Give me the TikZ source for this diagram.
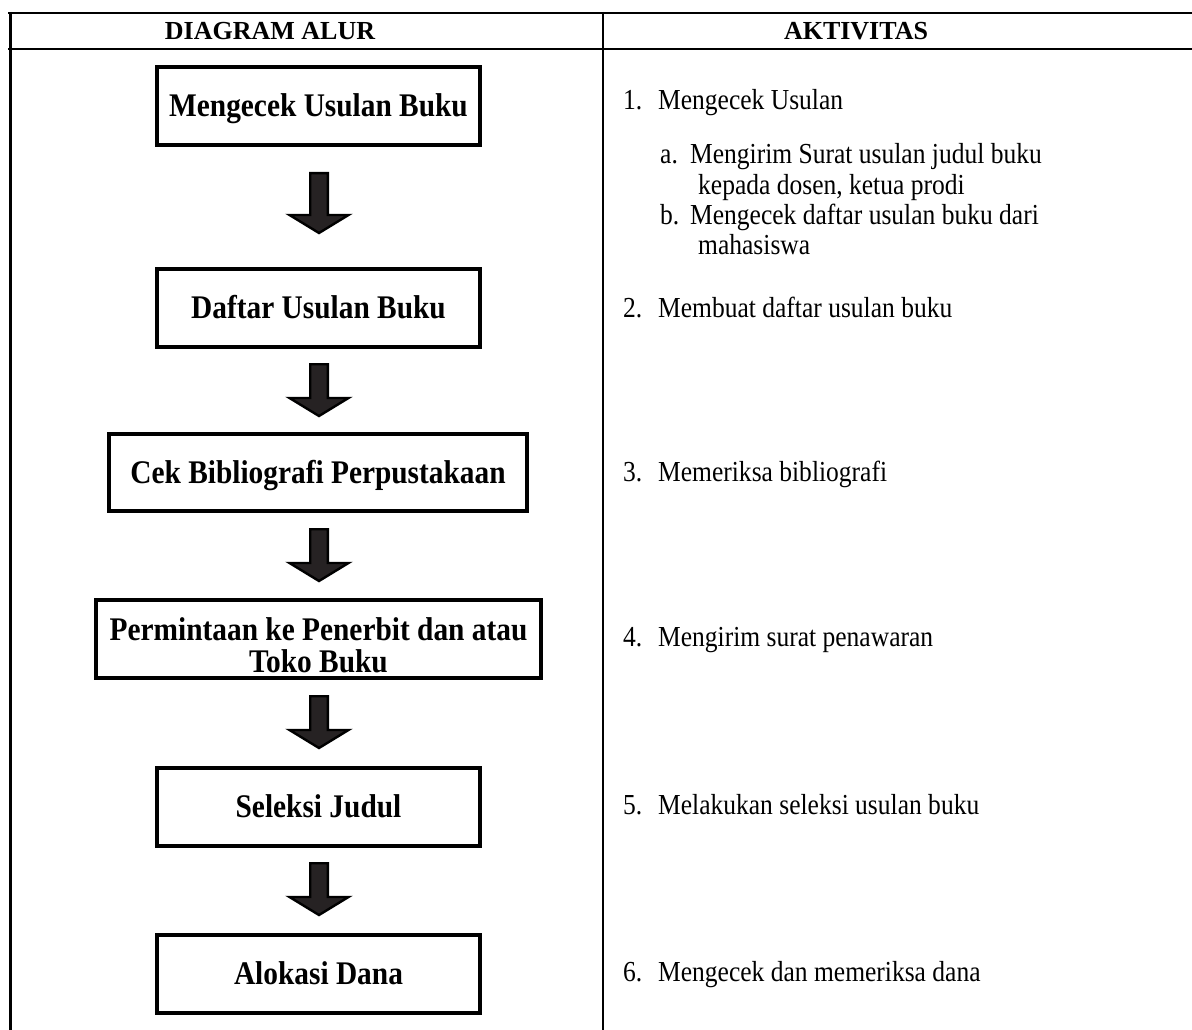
\documentclass[tikz,border=0pt]{standalone}
\usepackage{fontspec}
\setmainfont{Liberation Serif}
\newfontfamily\boxfont[FakeStretch=0.89]{Liberation Serif}
\newfontfamily\bodyfont[FakeStretch=0.88]{Liberation Serif}
\usetikzlibrary{calc}
\definecolor{arrowfill}{RGB}{38,34,35}
\tikzset{
  tblline/.style={line width=2.8pt, draw=black},
  flowbox/.style={draw=black, line width=3.8pt, fill=white, inner sep=0pt, align=center,
    text height=21.8pt, text depth=0pt,
    font=\boxfont\fontsize{33}{36}\selectfont\bfseries},
  boxlabel/.style={inner sep=0pt, anchor=base, font=\boxfont\fontsize{33}{36}\selectfont\bfseries},
  headtext/.style={inner sep=0pt, font=\fontsize{26}{30}\selectfont\bfseries},
  itemtext/.style={anchor=base west, inner sep=0pt, font=\bodyfont\fontsize{29}{32}\selectfont},
  pics/downarrow/.style={code={
    \draw[draw=black, fill=arrowfill, line width=2.4pt, line join=miter]
      (-8.8,1.2) -- (8.8,1.2) -- (8.8,#1) -- (29.5,#1) -- (0,{#1+18}) -- (-29.5,#1) -- (-8.8,#1) -- cycle;
  }}
}
\begin{document}
\begin{tikzpicture}[x=1pt,y=-1pt]
\useasboundingbox (0,0) rectangle (1192,1030);
% table frame
\draw[tblline] (8,13) -- (1192,13);
\draw[tblline] (8,49) -- (1192,49);
\draw[tblline] (10.5,12) -- (10.5,1030);
\draw[tblline] (603,12) -- (603,1030);
% headers
\node[headtext] (h1) at (270,31.5) {DIAGRAM ALUR};
\node[headtext] (h2) at (856,31.5) {AKTIVITAS};
% flow boxes
\node[flowbox, minimum width=323.2pt, minimum height=78.2pt] (b1) at (318.5,106) {Mengecek Usulan Buku};
\node[flowbox, minimum width=323.2pt, minimum height=78.2pt] (b2) at (318.5,308) {Daftar Usulan Buku};
\node[flowbox, minimum width=418.2pt, minimum height=77.2pt] (b3) at (318,472.5) {Cek Bibliografi Perpustakaan};
\node[flowbox, minimum width=445.2pt, minimum height=78.2pt] (b4) at (318.5,639) {};
\node[boxlabel] (b4l1) at (318.5,640) {Permintaan ke Penerbit dan atau};
\node[boxlabel] (b4l2) at (318.5,672) {Toko Buku};
\node[flowbox, minimum width=323.2pt, minimum height=78.2pt] (b5) at (318.5,807) {Seleksi Judul};
\node[flowbox, minimum width=323.2pt, minimum height=78.2pt] (b6) at (318.5,974) {Alokasi Dana};
% block arrows
\pic at ($(b1.south)+(0.5,25)$) {downarrow=43};
\pic at ($(b2.south)+(0.5,14)$) {downarrow=35};
\pic at ($(b3.south)+(1,15)$) {downarrow=35};
\pic at ($(b4.south)+(0.5,15)$) {downarrow=35};
\pic at ($(b5.south)+(0.5,14)$) {downarrow=35};
% activities
\node[itemtext] (i1) at (623,110) {\makebox[35pt][l]{1.}Mengecek Usulan};
\node[itemtext] (i1a) at (660,164) {\makebox[30pt][l]{a.}Mengirim Surat usulan judul buku};
\node[itemtext] (i1a2) at (698,194) {kepada dosen, ketua prodi};
\node[itemtext] (i1b) at (660,224) {\makebox[30pt][l]{b.}Mengecek daftar usulan buku dari};
\node[itemtext] (i1b2) at (698,254) {mahasiswa};
\node[itemtext] (i2) at (623,317) {\makebox[35pt][l]{2.}Membuat daftar usulan buku};
\node[itemtext] (i3) at (623,481) {\makebox[35pt][l]{3.}Memeriksa bibliografi};
\node[itemtext] (i4) at (623,646) {\makebox[35pt][l]{4.}Mengirim surat penawaran};
\node[itemtext] (i5) at (623,814) {\makebox[35pt][l]{5.}Melakukan seleksi usulan buku};
\node[itemtext] (i6) at (623,981) {\makebox[35pt][l]{6.}Mengecek dan memeriksa dana};
\end{tikzpicture}
\end{document}
